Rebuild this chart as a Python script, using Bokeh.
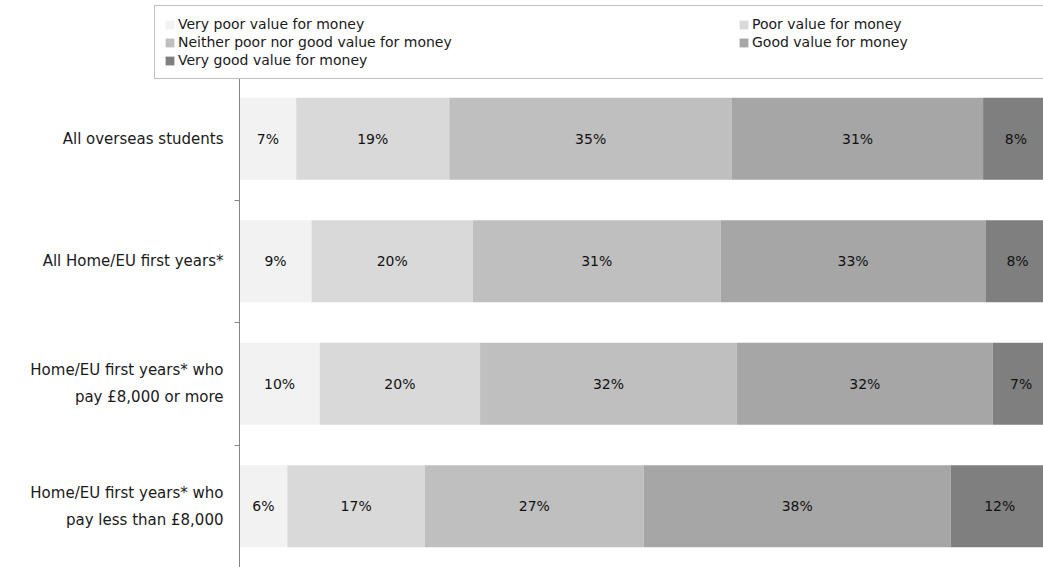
from bokeh.plotting import figure
from bokeh.models import Range1d, FixedTicker, Legend, LegendItem, ColumnDataSource
from bokeh.embed import file_html
from bokeh.resources import INLINE
from bokeh.core.properties import value

categories = [
    "All overseas students",
    "All Home/EU first years*",
    "Home/EU first years* who\npay £8,000 or more",
    "Home/EU first years* who\npay less than £8,000",
]
series = [
    "Very poor value for money",
    "Poor value for money",
    "Neither poor nor good value for money",
    "Good value for money",
    "Very good value for money",
]
very_poor = [7.0, 8.9, 9.9, 5.9]
poor = [18.9, 19.9, 19.8, 17.0]
neither = [34.9, 30.6, 31.7, 27.0]
good = [31.0, 32.7, 31.6, 37.9]
very_good = [8.1, 7.9, 7.0, 12.1]
values = [very_poor, poor, neither, good, very_good]
colors = ["#f2f2f2", "#d9d9d9", "#bfbfbf", "#a6a6a6", "#7f7f7f"]

FONT = "DejaVu Sans"
n = len(categories)
ys = [n - 1 - i for i in range(n)]

W, H = 1043, 567
AX_X = 239          # pixel position of the value axis
PX_UNIT = 8.1       # pixels per percent
BAND = 122.5        # pixels per category band
x_end = (W - AX_X) / PX_UNIT
x_start = -AX_X / PX_UNIT
y_start = -0.5
y_end = -0.5 + H / BAND

p = figure(width=W, height=H, output_backend="svg", toolbar_location=None,
           x_range=Range1d(x_start, x_end), y_range=Range1d(y_start, y_end),
           x_axis_location=None, min_border_left=0, min_border_right=0,
           min_border_top=0, min_border_bottom=0)
p.outline_line_color = None
p.xgrid.visible = False
p.ygrid.visible = False
p.background_fill_color = "white"
p.border_fill_color = "white"

yax = p.yaxis[0]
yax.fixed_location = 0
yax.bounds = (-0.5, n - 0.5)
yax.ticker = FixedTicker(ticks=ys, minor_ticks=[i + 0.5 for i in range(n - 1)])
yax.major_label_overrides = {y: c for y, c in zip(ys, categories)}
yax.major_label_text_font = FONT
yax.major_label_text_font_size = "15px"
yax.major_label_text_color = "#1a1a1a"
yax.major_label_text_line_height = 1.5
yax.major_label_standoff = 11
yax.major_tick_in = 0
yax.major_tick_out = 0
yax.major_tick_line_color = None
yax.minor_tick_in = 0
yax.minor_tick_out = 5
yax.minor_tick_line_color = "#868686"
yax.axis_line_color = "#868686"

left = [0.0] * n
items = []
for s, vals, col in zip(series, values, colors):
    right = [l + v for l, v in zip(left, vals)]
    src = ColumnDataSource(dict(y=ys, left=left, right=right,
                                mid=[(l + r) / 2 for l, r in zip(left, right)],
                                lab=[f"{round(v)}%" for v in vals]))
    r = p.hbar(y="y", left="left", right="right", height=0.67, source=src,
               fill_color=col, line_color=None)
    p.text(x="mid", y="y", text="lab", source=src, text_align="center",
           text_baseline="middle", text_font=value(FONT), text_font_size="14px",
           text_color="#111111")
    items.append(LegendItem(label=s, renderers=[r]))
    left = right

legend = Legend(items=items, location=(154, H - 79), orientation="horizontal",
                ncols=2)
legend.label_text_font = FONT
legend.label_text_font_size = "14px"
legend.label_text_color = "#1a1a1a"
legend.glyph_width = 11
legend.glyph_height = 11
legend.label_height = 18
legend.label_width = 560
legend.label_standoff = 3
legend.padding = 9
legend.spacing = 0
legend.margin = 0
legend.border_line_color = "#808080"
legend.border_line_width = 1
legend.background_fill_color = "white"
p.add_layout(legend, "center")

open("out.html", "w").write(file_html(p, INLINE))
